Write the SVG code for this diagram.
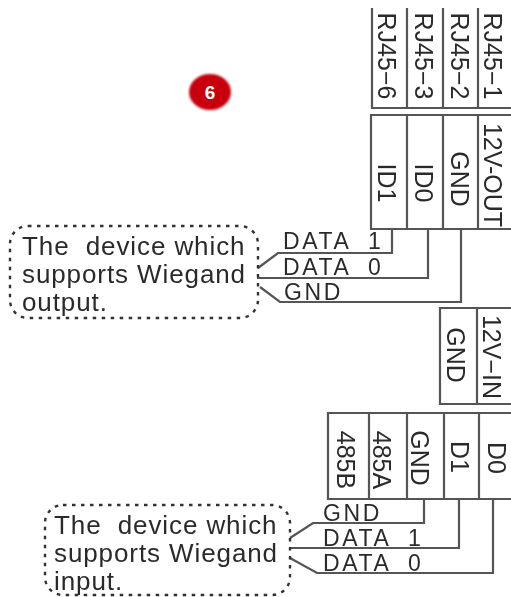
<svg xmlns="http://www.w3.org/2000/svg" width="511" height="597" viewBox="0 0 511 597">
<defs>
<filter id="soft" x="-5%" y="-5%" width="110%" height="110%"><feGaussianBlur stdDeviation="0.6"/></filter>
<filter id="softer" x="-20%" y="-20%" width="140%" height="140%"><feGaussianBlur stdDeviation="1.2"/></filter>
</defs>
<style>
.cell{fill:#fff;stroke:#555;stroke-width:2.2}
.wire{fill:none;stroke:#555;stroke-width:2.2}
.dot{fill:none;stroke:#333;stroke-width:2.4;stroke-dasharray:3.5 5.5}
text{font-family:"Liberation Sans",Arial,sans-serif;fill:#2b2b2b}
.lab{font-size:26px;letter-spacing:0.9px}
.wl{font-size:23px;letter-spacing:2.6px}
.v{font-size:25px;text-anchor:middle}
</style>
<rect width="511" height="597" fill="#fff"/>
<g filter="url(#soft)">
<g id="connectors">
<path class="wire" d="M258 268L278 253H392V229"/>
<path class="wire" d="M257 278H428V229"/>
<path class="wire" d="M260 287L280 302H461V229"/>
<path class="wire" d="M290 538L313 523H424V499"/>
<path class="wire" d="M290 548H459V499"/>
<path class="wire" d="M290 558L317 573H493V499"/>
</g>
<g id="rj45-header">
<path class="cell" d="M372 8V108H511M407 8V108M443 8V108M478 8V108"/>
<text class="v" transform="translate(378,56) rotate(90)">RJ45−6</text>
<text class="v" transform="translate(415,56) rotate(90)">RJ45−3</text>
<text class="v" transform="translate(451,56) rotate(90)">RJ45−2</text>
<text class="v" transform="translate(484,56) rotate(90)">RJ45−1</text>
</g>
<g id="output-header">
<path class="cell" d="M511 115H371V229H511M407 115V229M443 115V229M478 115V229"/>
<text class="v" transform="translate(378,183) rotate(90)">ID1</text>
<text class="v" transform="translate(415,183) rotate(90)">ID0</text>
<text class="v" transform="translate(451,179) rotate(90)">GND</text>
<text class="v" transform="translate(484,175) rotate(90)">12V-OUT</text>
</g>
<g id="power-header">
<path class="cell" d="M511 308H440V404H511M477 308V404"/>
<text class="v" transform="translate(447,355) rotate(90)">GND</text>
<text class="v" transform="translate(483,357) rotate(90)">12V−IN</text>
</g>
<g id="input-header">
<path class="cell" d="M511 413H328V499H511M369 413V499M407 413V499M444 413V499M479 413V499"/>
<text class="v" transform="translate(337,460) rotate(90)">485B</text>
<text class="v" transform="translate(373,460) rotate(90)">485A</text>
<text class="v" transform="translate(411,458) rotate(90)">GND</text>
<text class="v" transform="translate(451,457) rotate(90)">D1</text>
<text class="v" transform="translate(488,458) rotate(90)">D0</text>
</g>
<g id="output-device">
<rect class="dot" x="10" y="226" width="248" height="92" rx="18"/>
<text class="lab" x="22" y="255" xml:space="preserve">The  device which</text>
<text class="lab" x="22" y="283">supports Wiegand</text>
<text class="lab" x="22" y="311">output.</text>
</g>
<g id="input-device">
<rect class="dot" x="45" y="505" width="245" height="90" rx="18"/>
<text class="lab" x="54" y="534" xml:space="preserve">The  device which</text>
<text class="lab" x="54" y="562">supports Wiegand</text>
<text class="lab" x="54" y="590">input.</text>
</g>
<g id="wire-labels">
<text class="wl" x="283" y="249" xml:space="preserve">DATA  1</text>
<text class="wl" x="283" y="275" xml:space="preserve">DATA  0</text>
<text class="wl" x="284" y="300">GND</text>
<text class="wl" x="323" y="521">GND</text>
<text class="wl" x="323" y="546" xml:space="preserve">DATA  1</text>
<text class="wl" x="323" y="571" xml:space="preserve">DATA  0</text>
</g>
</g>
<g id="badge">
<ellipse cx="210" cy="92" rx="21" ry="18" fill="#c8000a" filter="url(#softer)"/>
<text x="210" y="99" font-size="19" font-weight="bold" text-anchor="middle" style="fill:#fff">6</text>
</g>
</svg>
